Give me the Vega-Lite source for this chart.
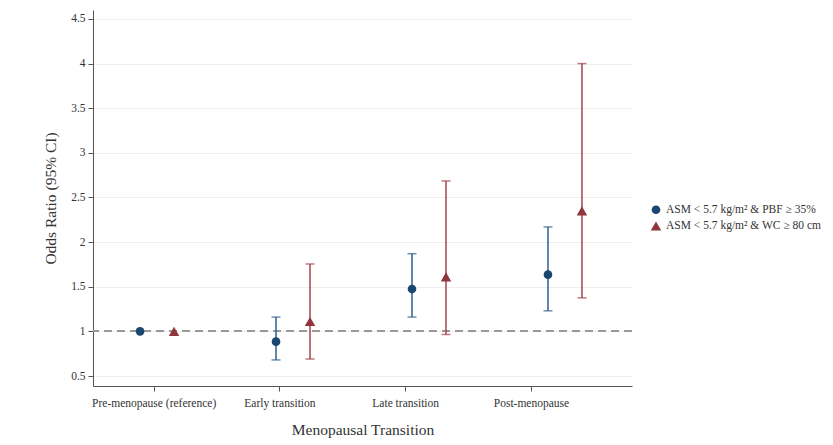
{
  "$schema": "https://vega.github.io/schema/vega-lite/v6.json",
  "width": 539,
  "height": 376,
  "autosize": {"type": "none"},
  "padding": {"left": 93, "top": 10, "right": 201, "bottom": 59},
  "background": "white",
  "config": {
    "font": "Liberation Serif",
    "view": {"stroke": null},
    "axis": {"labelFont": "Liberation Serif", "titleFont": "Liberation Serif", "labelColor": "#333", "titleColor": "#333", "titleFontWeight": "normal", "domainColor": "#555", "tickColor": "#555", "labelFontSize": 11.5, "titleFontSize": 15.5}
  },
  "data": {
    "values": [
      {"code": 1, "series": "PBF", "or": 1.0, "lo": null, "hi": null},
      {"code": 1, "series": "WC", "or": 1.0, "lo": null, "hi": null},
      {"code": 2, "series": "PBF", "or": 0.885, "lo": 0.68, "hi": 1.16},
      {"code": 2, "series": "WC", "or": 1.11, "lo": 0.69, "hi": 1.755},
      {"code": 3, "series": "PBF", "or": 1.475, "lo": 1.16, "hi": 1.87},
      {"code": 3, "series": "WC", "or": 1.61, "lo": 0.965, "hi": 2.685},
      {"code": 4, "series": "PBF", "or": 1.635, "lo": 1.23, "hi": 2.17},
      {"code": 4, "series": "WC", "or": 2.35, "lo": 1.375, "hi": 4.0}
    ]
  },
  "encoding": {
    "x": {
      "field": "code", "type": "quantitative",
      "scale": {"domain": [0.654, 4.618], "nice": false, "zero": false},
      "axis": {
        "title": "Menopausal Transition", "grid": false,
        "values": [1.1, 2.025, 2.95, 3.875],
        "labelExpr": "datum.value < 1.5 ? 'Pre-menopause (reference)' : datum.value < 2.5 ? 'Early transition' : datum.value < 3.5 ? 'Late transition' : 'Post-menopause'",
        "tickSize": 5, "labelPadding": 6, "titlePadding": 14, "labelFlush": false
      }
    }
  },
  "layer": [
    {
      "mark": {"type": "rule", "color": "#999", "strokeDash": [8, 5], "strokeWidth": 1.5},
      "encoding": {
        "x": null,
        "y": {"datum": 1, "type": "quantitative", "scale": {"domain": [0.388, 4.6], "nice": false, "zero": false},
          "axis": {"title": "Odds Ratio (95% CI)", "values": [0.5, 1, 1.5, 2, 2.5, 3, 3.5, 4, 4.5], "format": "~g", "grid": true, "gridColor": "#eeeeee", "tickSize": 5, "labelPadding": 3, "titlePadding": 12}}
      }
    },
    {
      "transform": [{"filter": "datum.lo != null"}],
      "layer": [
        {
          "mark": {"type": "rule", "strokeWidth": 1.5, "xOffset": {"expr": "datum.series == 'WC' ? 34 : 0"}},
          "encoding": {"y": {"field": "lo", "type": "quantitative"}, "y2": {"field": "hi"}}
        },
        {
          "mark": {"type": "tick", "orient": "horizontal", "size": 9, "thickness": 1.5, "xOffset": {"expr": "datum.series == 'WC' ? 34 : 0"}},
          "encoding": {"y": {"field": "lo", "type": "quantitative"}}
        },
        {
          "mark": {"type": "tick", "orient": "horizontal", "size": 9, "thickness": 1.5, "xOffset": {"expr": "datum.series == 'WC' ? 34 : 0"}},
          "encoding": {"y": {"field": "hi", "type": "quantitative"}}
        }
      ],
      "encoding": {
        "color": {"condition": {"test": "datum.series == 'WC'", "value": "#a2444c"}, "value": "#2f5f8c"}
      }
    },
    {
      "mark": {"type": "point", "filled": true, "opacity": 1, "xOffset": {"expr": "datum.series == 'WC' ? 34 : 0"}},
      "encoding": {
        "y": {"field": "or", "type": "quantitative"},
        "color": {"field": "series", "type": "nominal", "scale": {"domain": ["PBF", "WC"], "range": ["#1a476f", "#90353b"]},
          "legend": {"title": null, "orient": "none", "legendX": 557, "legendY": 194, "labelFont": "Liberation Serif", "labelFontSize": 11.5, "labelColor": "#333", "symbolSize": 50, "rowPadding": 4,
            "labelExpr": "datum.value == 'PBF' ? 'ASM < 5.7 kg/m² & PBF ≥ 35%' : 'ASM < 5.7 kg/m² & WC ≥ 80 cm'"}},
        "shape": {"field": "series", "type": "nominal", "scale": {"domain": ["PBF", "WC"], "range": ["circle", "triangle-up"]}, "legend": {"title": null, "orient": "none", "legendX": 557, "legendY": 194, "labelFont": "Liberation Serif", "labelFontSize": 11.5, "labelColor": "#333", "symbolSize": 50, "rowPadding": 4,
            "labelExpr": "datum.value == 'PBF' ? 'ASM < 5.7 kg/m² & PBF ≥ 35%' : 'ASM < 5.7 kg/m² & WC ≥ 80 cm'"}},
        "size": {"field": "series", "type": "nominal", "scale": {"domain": ["PBF", "WC"], "range": [75, 110]}, "legend": null}
      }
    }
  ]
}
